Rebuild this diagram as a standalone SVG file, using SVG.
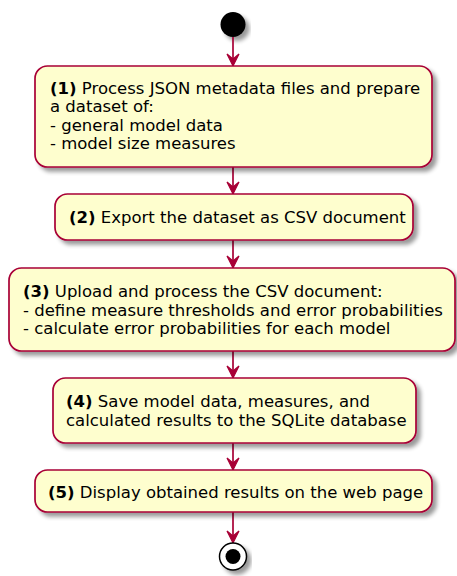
<svg xmlns="http://www.w3.org/2000/svg" width="457" height="576" viewBox="0 0 457 576">
<defs>
<filter id="sh" x="-10%" y="-10%" width="130%" height="140%">
<feGaussianBlur in="SourceAlpha" stdDeviation="2"/>
<feOffset dx="4" dy="4" result="b"/>
<feComponentTransfer><feFuncA type="linear" slope="0.4"/></feComponentTransfer>
<feMerge><feMergeNode/><feMergeNode in="SourceGraphic"/></feMerge>
</filter>
<style>
.box{fill:#FEFECE;stroke:#A80036;stroke-width:1.7;filter:url(#sh)}
.t{font-family:"DejaVu Sans",sans-serif;font-size:16.5px;fill:#000}
.b{font-weight:bold}
.ln{stroke:#A80036;stroke-width:1.7;fill:none}
.ah{fill:#A80036;stroke:#A80036;stroke-width:1.2}
</style>
</defs>
<g id="start"><circle cx="233" cy="24.5" r="12.5" fill="#000" filter="url(#sh)"/></g>
<g id="connectors">
<line class="ln" x1="233" y1="37" x2="233" y2="66"/>
<polygon class="ah" points="227,54 233,66 239,54 233,59"/>
<line class="ln" x1="233" y1="167" x2="233" y2="194"/>
<polygon class="ah" points="227,182 233,194 239,182 233,187"/>
<line class="ln" x1="233" y1="240" x2="233" y2="268"/>
<polygon class="ah" points="227,256 233,268 239,256 233,261"/>
<line class="ln" x1="233" y1="351" x2="233" y2="378"/>
<polygon class="ah" points="227,366 233,378 239,366 233,371"/>
<line class="ln" x1="233" y1="443" x2="233" y2="470"/>
<polygon class="ah" points="227,458 233,470 239,458 233,463"/>
<line class="ln" x1="233" y1="512" x2="233" y2="543"/>
<polygon class="ah" points="227,531 233,543 239,531 233,536"/>
</g>
<g id="n1">
<rect class="box" x="35" y="66" width="397" height="101" rx="12.5"/>
<text class="t" x="50" y="93.5"><tspan class="b">(1)</tspan> Process JSON metadata files and prepare</text>
<text class="t" x="50" y="112">a dataset of:</text>
<text class="t" x="50" y="130.5">- general model data</text>
<text class="t" x="50" y="149">- model size measures</text>
</g>
<g id="n2">
<rect class="box" x="55" y="194" width="358" height="46" rx="12.5"/>
<text class="t" x="69" y="223"><tspan class="b">(2)</tspan> Export the dataset as CSV document</text>
</g>
<g id="n3">
<rect class="box" x="9" y="268" width="446" height="83" rx="12.5"/>
<text class="t" x="23" y="297"><tspan class="b">(3)</tspan> Upload and process the CSV document:</text>
<text class="t" x="23" y="315.5">- define measure thresholds and error probabilities</text>
<text class="t" x="23" y="334">- calculate error probabilities for each model</text>
</g>
<g id="n4">
<rect class="box" x="53" y="378" width="363" height="65" rx="12.5"/>
<text class="t" x="66" y="407"><tspan class="b">(4)</tspan> Save model data, measures, and</text>
<text class="t" x="66" y="425.5">calculated results to the SQLite database</text>
</g>
<g id="n5">
<rect class="box" x="35" y="470" width="397" height="42" rx="12.5"/>
<text class="t" x="48" y="498"><tspan class="b">(5)</tspan> Display obtained results on the web page</text>
</g>
<g id="end">
<circle cx="233" cy="556.5" r="13.5" fill="#fff" stroke="#000" stroke-width="1.5" filter="url(#sh)"/>
<circle cx="233" cy="556.5" r="7.5" fill="#000"/>
</g>
</svg>
